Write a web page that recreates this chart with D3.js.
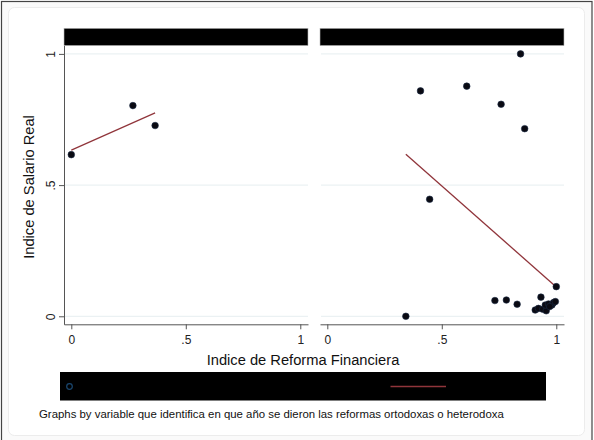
<!DOCTYPE html>
<html>
<head>
<meta charset="utf-8">
<script src="https://cdn.jsdelivr.net/npm/d3@7"></script>
<style>
  body { margin: 0; background: #fff; }
  svg { display: block; font-family: "Liberation Sans", Arial, sans-serif; }
</style>
</head>
<body>
<svg id="chart" width="594" height="440"></svg>
<script>
// data
const xTicks = [0, 0.5, 1];
const xTickLabels = ["0", ".5", "1"];
const yTicks = [0, 0.5, 1];
const yTickLabels = ["0", ".5", "1"];

const leftX = [0, 0.269, 0.366];
const leftY = [0.616, 0.803, 0.727];

const rightX = [0.844, 0.407, 0.609, 0.759, 0.862, 0.447, 0.343, 1.0, 0.732, 0.782, 0.829,
                0.933, 0.908, 0.922, 0.941, 0.956, 0.952, 0.966, 0.981, 0.988, 0.996, 0.971];
const rightY = [1.0, 0.859, 0.877, 0.808, 0.715, 0.446, 0.0, 0.113, 0.060, 0.062, 0.046,
                0.073, 0.024, 0.030, 0.027, 0.021, 0.043, 0.047, 0.043, 0.052, 0.056, 0.037];

const xTitle = "Indice de Reforma Financiera";
const yTitle = "Indice de Salario Real";
const note = "Graphs by variable que identifica en que año se dieron las reformas ortodoxas o heterodoxa";

const svg = d3.select("#chart");
const width = +svg.attr("width");
const height = +svg.attr("height");

const markerFill = "#0a0a12";
const fitColor = "#90353b";
const gridColor = "#e6eef0";
const axisColor = "#555";

// outer frame
svg.append("rect").attr("x", 1.5).attr("y", 1.5).attr("width", width - 3.5).attr("height", height + 5)
    .attr("fill", "#fafafa").attr("stroke", "#444").attr("stroke-width", 1.2);
svg.append("rect").attr("x", 8.5).attr("y", 7.5).attr("width", 576).attr("height", 428).attr("rx", 6)
    .attr("fill", "#fff").attr("stroke", "#ececec");

const y = d3.scaleLinear().domain([-0.0305, 1.032]).range([324.3, 45.5]);

const panels = [
    { left: 64, right: 308, xs: leftX, ys: leftY, yAxis: true },
    { left: 320, right: 564, xs: rightX, ys: rightY, yAxis: false }
];

function fit(xs, ys) {
    const mx = d3.mean(xs), my = d3.mean(ys);
    const sxy = d3.sum(xs, (v, i) => (v - mx) * (ys[i] - my));
    const sxx = d3.sum(xs, v => (v - mx) * (v - mx));
    const b = sxy / sxx;
    const a = my - b * mx;
    const [x0, x1] = d3.extent(xs);
    return [{ x: x0, y: a + b * x0 }, { x: x1, y: a + b * x1 }];
}

panels.forEach(p => {
    const x = d3.scaleLinear().domain([-0.0319, 1.0337]).range([p.left, p.right]);
    const g = svg.append("g");

    // header strip
    g.append("rect").attr("x", p.left).attr("y", 28.3).attr("width", p.right - p.left).attr("height", 17.3)
        .attr("fill", "#000").attr("stroke", "#bbb").attr("stroke-width", 0.6);

    // grid
    g.selectAll(".grid").data(yTicks).join("line")
        .attr("x1", p.left + 1).attr("x2", p.right)
        .attr("y1", d => y(d)).attr("y2", d => y(d))
        .attr("stroke", gridColor).attr("stroke-width", 1);

    // x axis
    const xAxis = d3.axisBottom(x).tickValues(xTicks).tickSize(5).tickSizeOuter(0)
        .tickFormat((d, i) => xTickLabels[i]);
    const xg = g.append("g").attr("transform", `translate(0,${y.range()[0]})`).call(xAxis);
    xg.select(".domain").attr("stroke", axisColor);
    xg.selectAll(".tick line").attr("stroke", axisColor);
    xg.selectAll(".tick text").attr("fill", "#222").attr("y", 11).style("font-size", "12px")
        .style("font-family", "Liberation Sans, Arial, sans-serif");

    if (p.yAxis) {
        const yAxis = d3.axisLeft(y).tickValues(yTicks).tickSize(5).tickSizeOuter(0)
            .tickFormat((d, i) => yTickLabels[i]);
        const yg = g.append("g").attr("transform", `translate(${p.left},0)`).call(yAxis);
        yg.select(".domain").attr("stroke", axisColor);
        yg.selectAll(".tick line").attr("stroke", axisColor);
        yg.selectAll(".tick text")
            .attr("fill", "#222")
            .attr("x", null).attr("dy", null)
            .attr("transform", "translate(-13,0) rotate(-90)")
            .attr("text-anchor", "middle")
            .attr("dominant-baseline", "central")
            .style("font-size", "12px")
            .style("font-family", "Liberation Sans, Arial, sans-serif");
    }

    // fitted line
    const line = d3.line().x(d => x(d.x)).y(d => y(d.y));
    g.append("path").datum(fit(p.xs, p.ys))
        .attr("fill", "none").attr("stroke", fitColor).attr("stroke-width", 1.3)
        .attr("d", line);

    // points
    g.selectAll("circle").data(p.xs.map((v, i) => ({ x: v, y: p.ys[i] }))).join("circle")
        .attr("cx", d => x(d.x)).attr("cy", d => y(d.y)).attr("r", 3.3)
        .attr("fill", markerFill).attr("stroke", "#1a2a44").attr("stroke-width", 0.6);
});

// axis titles
svg.append("text")
    .attr("x", 303).attr("y", 365)
    .attr("text-anchor", "middle")
    .style("font-size", "14.7px").attr("fill", "#111")
    .text(xTitle);

svg.append("text")
    .attr("transform", "translate(34,187) rotate(-90)")
    .attr("text-anchor", "middle")
    .style("font-size", "14.7px").attr("fill", "#111")
    .text(yTitle);

// legend
const lg = svg.append("g");
lg.append("rect").attr("x", 60).attr("y", 372).attr("width", 486).attr("height", 28.5).attr("fill", "#000");
lg.append("circle").attr("cx", 69.5).attr("cy", 386.5).attr("r", 2.8)
    .attr("fill", "none").attr("stroke", "#1a476f").attr("stroke-width", 1.2);
lg.append("line").attr("x1", 390.5).attr("x2", 446).attr("y1", 386.5).attr("y2", 386.5)
    .attr("stroke", fitColor).attr("stroke-width", 1.3);

// note
svg.append("text")
    .attr("x", 39).attr("y", 418)
    .style("font-size", "11.4px").attr("fill", "#111")
    .text(note);
</script>
</body>
</html>
